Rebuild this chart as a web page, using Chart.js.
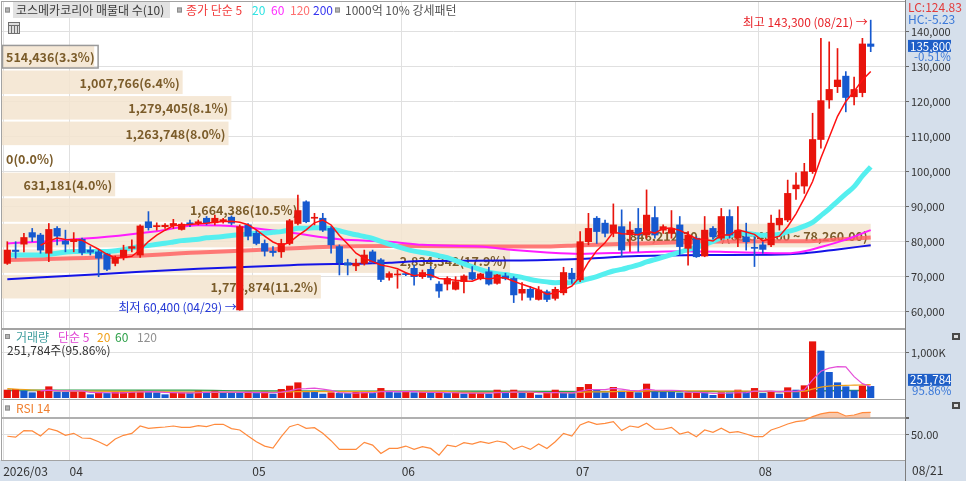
<!DOCTYPE html>
<html>
<head>
<meta charset="utf-8">
<title>코스메카코리아</title>
<script src="https://cdn.jsdelivr.net/npm/chart.js@4.4.1/dist/chart.umd.min.js"></script>
<style>
  html, body { margin: 0; padding: 0; background: #fff; }
  #wrap { position: relative; width: 966px; height: 481px; overflow: hidden; }
  #wrap canvas { position: absolute; left: 0; }
</style>
</head>
<body>
<div id="wrap">
  <canvas id="chart-price" width="966" height="329" style="top:0"></canvas>
  <canvas id="chart-volume" width="966" height="70" style="top:329px"></canvas>
  <canvas id="chart-rsi" width="966" height="82" style="top:399px"></canvas>
</div>
<script>
// ---- data ----
const dates = [
  '03/20','03/23','03/24','03/25','03/26','03/27','03/30','03/31',
  '04/01','04/02','04/03','04/06','04/07','04/08','04/09','04/10','04/13','04/14','04/15','04/16','04/17',
  '04/20','04/21','04/22','04/23','04/24','04/27','04/28','04/29','04/30',
  '05/04','05/06','05/07','05/08','05/11','05/12','05/13','05/14','05/15','05/18','05/19','05/20','05/21','05/22',
  '05/26','05/27','05/28','05/29',
  '06/01','06/02','06/04','06/05','06/08','06/09','06/10','06/11','06/12','06/15','06/16','06/17','06/18','06/19',
  '06/22','06/23','06/24','06/25','06/26','06/29','06/30',
  '07/01','07/02','07/03','07/06','07/07','07/08','07/09','07/10','07/13','07/14','07/15','07/16','07/20','07/21',
  '07/22','07/23','07/24','07/27','07/28','07/29','07/30','07/31',
  '08/03','08/04','08/05','08/06','08/07','08/10','08/11','08/12','08/13','08/14','08/18','08/19','08/20','08/21'
];
const monthLabels = ['2026/03', '04', '05', '06', '07', '08'];
const priceTicks = [60000, 70000, 80000, 90000, 100000, 110000, 120000, 130000, 140000];

const opens = [
  73800, 77600, 79300, 82600, 81900, 76700, 83800, 80200, 80000, 80700,
  77600, 77100, 76500, 73800, 75500, 78100, 76200, 85700, 84300, 84300,
  84600, 83500, 85400, 85200, 86700, 85400, 86000, 87000, 60500, 84800,
  82400, 79500, 77300, 77100, 79500, 85200, 91400, 86700, 86700, 83800,
  78600, 74000, 73100, 73800, 77100, 74800, 69800, 70500, 70800, 72400,
  70000, 72100, 67900, 67900, 66400, 68600, 71200, 69400, 71400, 68100,
  70200, 69500, 65300, 66400, 63500, 65700, 63800, 65400, 71000, 69100,
  80000, 86700, 85300, 82400, 84300, 82000, 83800, 81900, 86900, 83300,
  82400, 84800, 78100, 81000, 75900, 83800, 81000, 87200, 81000, 81400,
  78400, 79100, 79100, 84800, 86200, 95100, 95900, 100000, 109200, 120500,
  124300, 127300, 121400, 122600, 136500
];
const highs = [
  80000, 80000, 82400, 83800, 82400, 85200, 84300, 83300, 82600, 81000,
  78600, 77600, 76700, 75900, 79000, 80500, 84800, 88600, 85400, 85200,
  86400, 85400, 86200, 86200, 87200, 87600, 86700, 87400, 84800, 85200,
  83300, 80500, 78600, 80700, 86400, 93300, 91700, 88100, 88100, 84300,
  79100, 75000, 75000, 77600, 77600, 75200, 71400, 71900, 71200, 73300,
  71900, 72900, 68600, 70000, 70000, 70500, 72900, 71000, 72700, 70700,
  71000, 70000, 68300, 67200, 67200, 66200, 67000, 72700, 72400, 82900,
  88100, 87200, 86200, 90800, 89100, 85700, 89500, 94800, 90000, 84800,
  88900, 87200, 82900, 81400, 87200, 84300, 89500, 89100, 90000, 85300,
  81400, 80000, 87600, 89100, 97600, 99700, 102400, 116700, 138100, 137100,
  135200, 128600, 127000, 138100, 143300
];
const lows = [
  73500, 75300, 77100, 80000, 76700, 74300, 79100, 77100, 77100, 76200,
  76200, 70000, 71700, 73100, 74800, 77100, 75500, 83300, 83300, 83800,
  83800, 83300, 84300, 84800, 84800, 84800, 85300, 84800, 60400, 80500,
  79100, 75900, 75900, 75500, 79100, 84800, 85400, 84800, 82900, 76700,
  70500, 70500, 71700, 73300, 73800, 68600, 69000, 66700, 70300, 67600,
  69500, 69100, 64100, 66200, 66200, 65400, 69100, 69100, 67600, 67900,
  69100, 62600, 63300, 63300, 63300, 62900, 63300, 64800, 68100, 68600,
  79100, 79500, 81400, 81400, 75700, 77200, 77200, 81000, 81000, 82400,
  81000, 76200, 73300, 75500, 75700, 80700, 80500, 81000, 78600, 77600,
  72900, 76700, 78600, 83300, 85700, 92100, 93800, 99500, 106700, 118100,
  122600, 117100, 119100, 121400, 134300
];
const closes = [
  77600, 77200, 81200, 81300, 77600, 83500, 81600, 79300, 80700, 76900,
  77000, 75300, 72100, 75500, 77600, 78600, 84500, 84000, 84600, 84700,
  85200, 85000, 85000, 85700, 85300, 86700, 86300, 85300, 84300, 81600,
  79500, 77300, 76900, 79500, 86000, 88900, 85700, 86900, 83300, 79100,
  74000, 73300, 73800, 76200, 74300, 69200, 70900, 70700, 70600, 70000,
  71200, 69800, 65900, 69500, 68600, 70200, 69300, 70800, 67900, 70500,
  69500, 64800, 66400, 64100, 66200, 63500, 66400, 71200, 69300, 80000,
  83800, 82900, 82400, 84800, 77600, 83300, 81900, 87600, 81900, 84300,
  83800, 78600, 81900, 75700, 83300, 81400, 87200, 81900, 83300, 80000,
  78100, 77800, 85300, 86700, 93800, 96200, 100000, 109200, 120300, 123500,
  126200, 121200, 123500, 136500, 135800
];
const volumes = [
  170000, 185000, 148000, 111000, 148000, 244000, 126000, 120000, 133000, 135000,
  67000, 118000, 96000, 126000, 130000, 135000, 148000, 126000, 111000, 67000,
  111000, 115000, 111000, 148000, 111000, 148000, 111000, 108000, 104000, 126000,
  111000, 126000, 81000, 185000, 259000, 333000, 141000, 140000, 81000, 111000,
  96000, 94000, 130000, 132000, 96000, 207000, 133000, 111000, 133000, 111000,
  115000, 111000, 118000, 96000, 111000, 81000, 111000, 118000, 81000, 170000,
  96000, 170000, 111000, 115000, 59000, 111000, 170000, 96000, 94000, 230000,
  296000, 170000, 111000, 230000, 148000, 150000, 111000, 304000, 133000, 130000,
  128000, 105000, 110000, 113000, 108000, 52000, 111000, 108000, 170000, 133000,
  207000, 96000, 133000, 81000, 222000, 170000, 267000, 1244000, 1037000, 563000,
  333000, 244000, 156000, 262650, 251784
];
const rsi14 = [
  47.6, 46.5, 54.6, 54.2, 47.9, 57, 54.2, 48.8, 51.2, 45.5,
  45, 40.9, 36, 44.2, 48.8, 51.2, 60.2, 57.3, 58.1, 59,
  60.2, 58.6, 58.6, 60.6, 59.4, 62.3, 62.3, 57, 55.3, 47.9,
  40.9, 35.6, 33.1, 47.1, 59.4, 62.3, 57.3, 58.1, 51.2, 42.2,
  31.5, 31.5, 31.5, 40.1, 36.8, 26.6, 32.7, 32.7, 35.6, 31.5,
  34.8, 32.7, 24.5, 36.8, 34.8, 39.7, 38.1, 41, 39, 41.8,
  39.8, 31.5, 35.6, 31.5, 38.1, 32.7, 40.9, 51.2, 47.9, 61.5,
  65.6, 62.3, 63.5, 65.6, 54.6, 60.2, 58.6, 63.5, 56.2, 56.2,
  58.6, 50.4, 52.9, 47.1, 55.3, 52.5, 57.4, 52.1, 53.3, 50.4,
  47.1, 47.1, 55.3, 58.6, 62.7, 65.6, 66.8, 71.7, 75, 77,
  77, 72.5, 73.7, 76.6, 77
];

// long averages need history that is off the picture, so they are read as [index, value]
const ma20Early = [[0, 76200], [4, 76200], [8, 77200], [12, 77200], [16, 78600]];
const ma60Pts = [[0, 79500], [6, 80300], [12, 81400], [18, 83000], [23, 84700], [28, 84300], [34, 82600],
  [40, 80700], [46, 80000], [50, 79100], [57, 78600], [61, 77600], [65, 76900], [69, 76500], [75, 76900],
  [81, 77300], [88, 77000], [94, 76700], [96, 77300], [98, 78500], [101, 80600], [104, 83300]];
const ma120Pts = [[0, 74800], [11, 75500], [23, 76900], [30, 77600], [38, 78500], [46, 78800], [57, 78600],
  [65, 78600], [69, 79000], [76, 79500], [84, 80000], [92, 80100], [96, 80100], [100, 80600], [104, 81200]];
const ma200Pts = [[0, 69300], [11, 70700], [23, 72300], [34, 73300], [46, 74000], [50, 74500], [60, 74600],
  [68, 75000], [76, 75900], [84, 76200], [92, 76300], [96, 76700], [100, 77800], [104, 79000]];
const vma20Early = [[0, 200000], [4, 165000], [10, 145000], [16, 135000]];
const vma60Pts = [[0, 170000], [22, 170000], [30, 150000], [57, 148000], [70, 135000], [95, 135000], [97, 150000], [104, 165000]];
const vma120Pts = [[0, 150000], [30, 145000], [57, 140000], [80, 140000], [104, 150000]];

// 매물대 (10 bands, bottom to top)
const bandVolumes = [1778874, 2834342, 4846212, 1664386, 631181, 0, 1263748, 1279405, 1007766, 514436];
const peakRange = '(65,540.00 ~ 78,260.00)';
const lcText = 'LC:124.83';
const hcText = 'HC:-5.23';

// ---- look ----
const FONT = '"Noto Sans CJK KR", "Noto Sans", sans-serif';
Chart.defaults.font.family = FONT;
Chart.defaults.font.size = 11;
Chart.defaults.color = '#333';
Chart.defaults.animation = false;
Chart.defaults.events = [];
Chart.defaults.plugins.legend.display = false;
Chart.defaults.plugins.tooltip.enabled = false;

const UP = '#e8140c';
const DOWN = '#1659cf';
const AXIS_BG = '#d5dfeb';
const GRID = '#e0e0e0';
const X_MIN = -0.64, X_MAX = 108.13;
const last = closes.length - 1;
const F12 = '12px ' + FONT;

const fmt = v => v.toLocaleString('en-US');
const pts = arr => arr.map((v, i) => ({ x: i, y: v })).filter(p => p.y !== null);
const sparse = list => list.map(p => ({ x: p[0], y: p[1] }));

function sma(src, n) {
  return src.map((_, i) => i < n - 1 ? null : src.slice(i - n + 1, i + 1).reduce((a, b) => a + b, 0) / n);
}

const monthTicks = [-0.5].concat(dates.map((d, i) => i > 0 && d.slice(0, 2) !== dates[i - 1].slice(0, 2) ? i - 0.5 : null).filter(v => v !== null));
const candleColors = closes.map((c, i) => c >= opens[i] ? UP : DOWN);
const volumeColors = volumes.map((v, i) => i === 0 || v > volumes[i - 1] ? UP : DOWN);

function xScale(withLabels) {
  return {
    type: 'linear', min: X_MIN, max: X_MAX, offset: false,
    afterBuildTicks: s => { s.ticks = monthTicks.map(v => ({ value: v })); },
    afterFit: s => { s.height = withLabels ? 21 : 0; s.paddingLeft = 0; s.paddingRight = 0; },
    grid: { color: GRID, drawTicks: false, offset: false },
    border: { display: false },
    ticks: {
      display: withLabels, autoSkip: false, maxRotation: 0, align: 'start', padding: 4, color: '#333',
      font: { size: 12 },
      callback: (v, i) => monthLabels[i]
    }
  };
}

function yScale(min, max, ticks, callback, extra) {
  return Object.assign({
    position: 'right', min: min, max: max,
    afterFit: s => { s.width = 61; s.paddingTop = 0; s.paddingBottom = 0; },
    afterBuildTicks: s => { s.ticks = ticks.map(v => ({ value: v })); },
    grid: { color: GRID, tickColor: '#666', tickLength: 4 },
    border: { display: false },
    ticks: { padding: 2, color: '#333', callback: callback }
  }, extra || {});
}

function line(data, color, width, order, extra) {
  return Object.assign({
    type: 'line', data: data, borderColor: color, borderWidth: width, order: order,
    pointRadius: 0, fill: false, cubicInterpolationMode: 'monotone'
  }, extra || {});
}

function text(ctx, str, x, y, color, font, align) {
  ctx.font = font || F12;
  ctx.fillStyle = color;
  ctx.textAlign = align || 'left';
  ctx.textBaseline = 'middle';
  ctx.fillText(str, x, y);
  return ctx.measureText(str).width;
}

function bullet(ctx, x, y) {
  ctx.fillStyle = '#b4b4b4';
  ctx.fillRect(x, y - 2.5, 5, 5);
  ctx.strokeStyle = '#8c8c8c';
  ctx.lineWidth = 1;
  ctx.strokeRect(x + 0.5, y - 2, 4, 4);
}

function cornerIcon(ctx, x, y) {
  ctx.fillStyle = '#4a4a4a';
  ctx.fillRect(x, y, 8, 7);
  ctx.fillStyle = '#ddd';
  ctx.fillRect(x + 2, y + 2, 4, 3);
}

// ---- shared frame: blue axis panel, borders ----
const panelFrame = {
  id: 'panelFrame',
  beforeDraw(chart) {
    const { ctx, chartArea: a, width, height } = chart;
    ctx.save();
    ctx.fillStyle = '#fff';
    ctx.fillRect(0, 0, width, height);
    ctx.fillStyle = AXIS_BG;
    ctx.fillRect(a.right, 0, width - a.right, height);
    if (height - a.bottom > 2) ctx.fillRect(0, a.bottom, width, height - a.bottom);
    ctx.restore();
  },
  afterDraw(chart) {
    const { ctx, chartArea: a, height } = chart;
    ctx.save();
    ctx.strokeStyle = '#a3a3a3';
    ctx.lineWidth = 1;
    ctx.strokeRect(a.left - 0.5, a.top - 0.5, a.right - a.left + 1, a.bottom - a.top + 1);
    ctx.strokeStyle = '#7d7d7d';
    ctx.beginPath();
    ctx.moveTo(a.right + 0.5, 0);
    ctx.lineTo(a.right + 0.5, height);
    ctx.stroke();
    ctx.restore();
  }
};

// ---- 매물대 bands behind the candles ----
const volumeProfile = {
  id: 'volumeProfile',
  beforeDatasetsDraw(chart) {
    const { ctx, chartArea: a, scales: { x, y } } = chart;
    const lo = Math.min(...closes), hi = Math.max(...closes);
    const step = (hi - lo) / bandVolumes.length;
    const total = bandVolumes.reduce((s, v) => s + v, 0);
    const maxV = Math.max(...bandVolumes);
    const full = x.getPixelForValue(last) - a.left;
    const cur = Math.min(bandVolumes.length - 1, Math.floor((closes[last] - lo) / step));
    const bandFont = 'bold 12.5px ' + FONT;
    ctx.save();
    bandVolumes.forEach((v, k) => {
      const yTop = y.getPixelForValue(lo + step * (k + 1));
      const yBot = y.getPixelForValue(lo + step * k);
      const w = v / maxV * full;
      ctx.fillStyle = 'rgba(243, 228, 207, 0.85)';
      ctx.fillRect(a.left, yTop + 1, w, yBot - yTop - 2);
      let str = fmt(v) + '(' + (v / total * 100).toFixed(1) + '%)';
      if (v === maxV) str += peakRange;
      ctx.font = bandFont;
      const tw = ctx.measureText(str).width;
      if (k === cur) {
        ctx.strokeStyle = '#9a9a9a';
        ctx.lineWidth = 1.5;
        ctx.strokeRect(a.left + 0.5, yTop + 1.5, Math.max(w, tw + 7), yBot - yTop - 3);
      }
      text(ctx, str, Math.max(a.left + 4 + tw, a.left + w - 3), (yTop + yBot) / 2 + 0.5, '#7b5c2a', bandFont, 'right');
    });
    ctx.restore();
  }
};

// ---- price panel texts ----
const priceNotes = {
  id: 'priceNotes',
  afterDatasetsDraw(chart) {
    const { ctx, scales: { x, y } } = chart;
    const hiIdx = highs.indexOf(Math.max(...highs));
    const loIdx = lows.indexOf(Math.min(...lows));
    ctx.save();
    text(ctx, '최고 ' + fmt(highs[hiIdx]) + ' (' + dates[hiIdx] + ') →', x.getPixelForValue(hiIdx) - 3, y.getPixelForValue(highs[hiIdx]) + 2.5, '#e8242a', null, 'right');
    text(ctx, '최저 ' + fmt(lows[loIdx]) + ' (' + dates[loIdx] + ') →', x.getPixelForValue(loIdx) - 3, y.getPixelForValue(lows[loIdx]) - 3, '#2438d6', null, 'right');
    ctx.restore();
  },
  afterDraw(chart) {
    const { ctx, chartArea: a, scales: { y } } = chart;
    ctx.save();
    bullet(ctx, 5, 10);
    ctx.fillStyle = '#e2e2e2';
    ctx.fillRect(13, 2, 157, 16);
    text(ctx, '코스메카코리아 매물대 수(10)', 16, 10.5, '#3a3a3a');
    bullet(ctx, 177, 10);
    text(ctx, '종가 단순 5', 186, 10.5, '#f23a3a');
    text(ctx, '20', 252, 10.5, '#2ee3e3');
    text(ctx, '60', 271, 10.5, '#ff2cff');
    text(ctx, '120', 290, 10.5, '#ff6f6f');
    text(ctx, '200', 313, 10.5, '#3434f0');
    bullet(ctx, 335, 10);
    text(ctx, '1000억 10% 강세패턴', 345, 10.5, '#555');
    // table icon
    ctx.fillStyle = '#dedede';
    ctx.fillRect(8, 22, 12, 12);
    ctx.strokeStyle = '#707070';
    ctx.lineWidth = 1;
    ctx.strokeRect(8.5, 22.5, 11, 11);
    ctx.beginPath();
    [11.5, 14.5, 17.5].forEach(v => { ctx.moveTo(v, 25); ctx.lineTo(v, 33); });
    ctx.moveTo(9, 25.5); ctx.lineTo(19, 25.5);
    ctx.stroke();
    // right axis notes
    const ax = a.right + 3;
    text(ctx, lcText, ax, 7.5, '#e33b3b', F12);
    text(ctx, hcText, ax, 19.5, '#3a78d8', F12);
    const yc = y.getPixelForValue(closes[last]);
    ctx.fillStyle = '#1f5fc7';
    ctx.fillRect(ax, yc - 6.5, 43, 12);
    text(ctx, fmt(closes[last]), ax + 2, yc, '#fff', '11.5px ' + FONT);
    const pct = (closes[last] / closes[last - 1] - 1) * 100;
    text(ctx, pct.toFixed(2) + '%', ax + 6, yc + 10.5, '#3a78d8', '11.5px ' + FONT);
    ctx.restore();
  }
};

// ---- volume panel texts ----
const volumeNotes = {
  id: 'volumeNotes',
  afterDraw(chart) {
    const { ctx, chartArea: a, scales: { y } } = chart;
    ctx.save();
    bullet(ctx, 5, 7.5);
    text(ctx, '거래량', 16, 8, '#3f9e9e');
    text(ctx, '단순 5', 58, 8, '#e044d4');
    text(ctx, '20', 97, 8, '#f0a018');
    text(ctx, '60', 115, 8, '#2ca048');
    text(ctx, '120', 137, 8, '#909090');
    const ratio = (volumes[last] / volumes[last - 1] * 100).toFixed(2);
    text(ctx, fmt(volumes[last]) + '주(' + ratio + '%)', 7, 21, '#333');
    const yv = y.getPixelForValue(volumes[last]);
    const ax = a.right + 3;
    ctx.fillStyle = '#1f5fc7';
    ctx.fillRect(ax, yv - 12.5, 43, 12);
    text(ctx, fmt(volumes[last]), ax + 2, yv - 6.5, '#fff', '11.5px ' + FONT);
    text(ctx, ratio + '%', ax + 4, yv + 4.5, '#3a78d8', '11.5px ' + FONT);
    cornerIcon(ctx, 952, 4);
    ctx.restore();
  }
};

// ---- RSI panel texts ----
const rsiNotes = {
  id: 'rsiNotes',
  afterDraw(chart) {
    const { ctx, chartArea: a } = chart;
    ctx.save();
    bullet(ctx, 5, 9);
    text(ctx, 'RSI 14', 16, 9.5, '#f08030');
    cornerIcon(ctx, 952, 3);
    text(ctx, dates[last], a.right + 7, a.bottom + 10.5, '#333');
    ctx.restore();
  }
};

// ---- price chart ----
const ma20 = sparse(ma20Early).concat(pts(sma(closes, 20)));
new Chart(document.getElementById('chart-price'), {
  type: 'bar',
  data: {
    datasets: [
      line(sparse(ma200Pts), '#1414e6', 2, 9),
      line(sparse(ma120Pts), 'rgba(255, 100, 100, 0.85)', 4, 8),
      line(sparse(ma60Pts), '#ff1cff', 2, 7),
      line(ma20, '#55efef', 5, 6),
      {
        type: 'bar', order: 3, grouped: false, barThickness: 1,
        data: lows.map((l, i) => ({ x: i, y: [l, highs[i]] })),
        backgroundColor: candleColors
      },
      {
        type: 'bar', order: 2, grouped: false, barThickness: 6.5, minBarLength: 1,
        data: opens.map((o, i) => ({ x: i, y: [o, closes[i]] })),
        backgroundColor: candleColors
      },
      line(pts(sma(closes, 5)), '#ff1010', 1.5, 1, { cubicInterpolationMode: 'default', tension: 0 })
    ]
  },
  options: {
    responsive: false,
    layout: { padding: { top: 2, bottom: 1, left: 2, right: 0 } },
    scales: {
      x: xScale(false),
      y: yScale(55343, 148486, priceTicks, v => fmt(v))
    }
  },
  plugins: [panelFrame, volumeProfile, priceNotes]
});

// ---- volume chart ----
new Chart(document.getElementById('chart-volume'), {
  type: 'bar',
  data: {
    datasets: [
      line(sparse(vma120Pts), '#a8a8a8', 1.2, 6),
      line(sparse(vma60Pts), '#2ca048', 1.2, 5),
      {
        type: 'bar', order: 3, grouped: false, barThickness: 6.5,
        data: pts(volumes), backgroundColor: volumeColors
      },
      line(sparse(vma20Early).concat(pts(sma(volumes, 20))), '#f0a018', 1.2, 2),
      line(pts(sma(volumes, 5)), '#e44fd8', 1.2, 1, { cubicInterpolationMode: 'default', tension: 0 })
    ]
  },
  options: {
    responsive: false,
    layout: { padding: { top: 1, bottom: 0, left: 2, right: 0 } },
    scales: {
      x: xScale(false),
      y: yScale(-29000, 1504000, [1000000], v => fmt(v / 1000) + 'K')
    }
  },
  plugins: [panelFrame, volumeNotes]
});

// ---- RSI chart ----
new Chart(document.getElementById('chart-rsi'), {
  type: 'line',
  data: {
    datasets: [
      line(pts(rsi14), '#ff8a3d', 1.2, 1, {
        cubicInterpolationMode: 'default', tension: 0,
        fill: { target: { value: 70 }, above: 'rgba(247, 165, 115, 0.6)', below: 'rgba(0, 0, 0, 0)' }
      })
    ]
  },
  options: {
    responsive: false,
    layout: { padding: { top: 1, bottom: 0, left: 2, right: 0 } },
    scales: {
      x: xScale(true),
      y: yScale(18.5, 92.1, [50, 70], v => v === 50 ? v.toFixed(2) : '', {
        grid: {
          color: c => c.tick && c.tick.value === 70 ? '#b0b0b0' : GRID,
          lineWidth: c => c.tick && c.tick.value === 70 ? 2 : 1,
          tickColor: '#666', tickLength: 4
        }
      })
    }
  },
  plugins: [panelFrame, rsiNotes]
});
</script>
</body>
</html>
